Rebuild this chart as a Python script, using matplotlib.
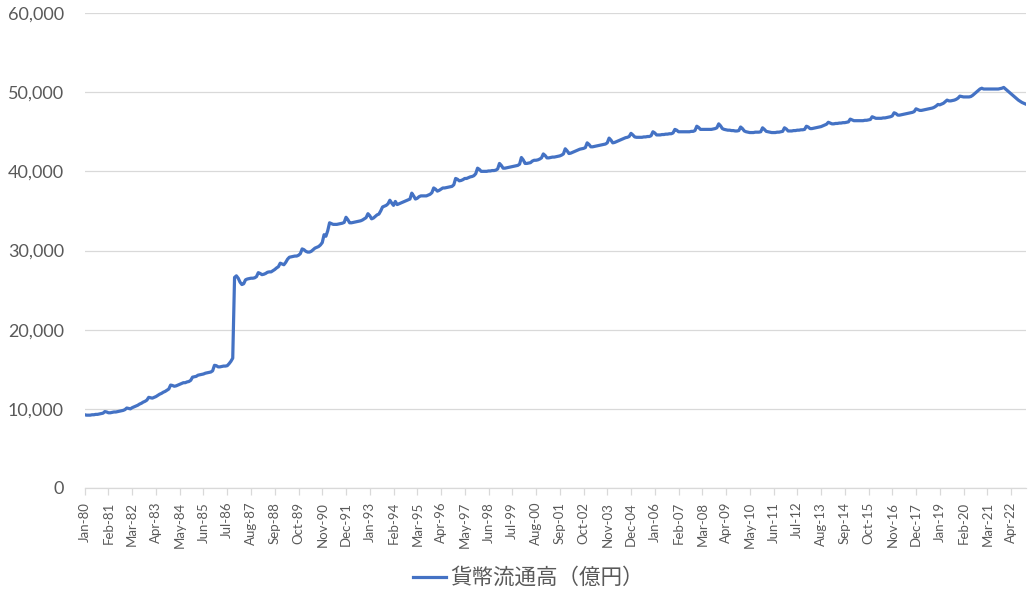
import matplotlib
matplotlib.use('Agg')
import matplotlib.pyplot as plt
import numpy as np
import pandas as pd
from matplotlib.ticker import FuncFormatter

plt.rcParams['font.family'] = ['Lato', 'Noto Sans CJK JP', 'DejaVu Sans']

series_name = '貨幣流通高（億円）'
start_month = '1980-01-01'

# Monthly values (億円), Jan..Dec per row, 1980..2022
values = [
    9250, 9200, 9200, 9200, 9250, 9250, 9300, 9300, 9350, 9400, 9450, 9650,
    9600, 9500, 9500, 9550, 9600, 9600, 9650, 9700, 9750, 9800, 9900, 10100,
    10050, 10000, 10150, 10250, 10350, 10450, 10600, 10700, 10850, 10950, 11100, 11450,
    11400, 11350, 11450, 11550, 11700, 11850, 11950, 12100, 12200, 12350, 12500, 13000,
    12950, 12850, 12900, 13000, 13100, 13200, 13300, 13300, 13400, 13450, 13600, 14000,
    14050, 14100, 14250, 14300, 14350, 14400, 14500, 14550, 14600, 14650, 14800, 15500,
    15450, 15300, 15300, 15350, 15400, 15400, 15450, 15700, 16000, 16400, 26600, 26800,
    26500, 26000, 25700, 25800, 26300, 26400, 26450, 26500, 26500, 26550, 26700, 27200,
    27100, 26950, 27000, 27100, 27250, 27300, 27300, 27450, 27600, 27800, 27950, 28400,
    28300, 28200, 28500, 28900, 29150, 29200, 29250, 29300, 29300, 29400, 29600, 30200,
    30100, 29900, 29800, 29800, 29900, 30100, 30300, 30400, 30500, 30700, 31000, 32000,
    31800, 32500, 33500, 33400, 33300, 33300, 33300, 33350, 33400, 33450, 33550, 34200,
    33900, 33500, 33500, 33550, 33600, 33650, 33700, 33750, 33850, 34000, 34150, 34650,
    34400, 34000, 34100, 34300, 34500, 34600, 35000, 35500, 35600, 35700, 35900, 36350,
    36000, 35700, 36200, 35800, 35900, 36000, 36100, 36200, 36300, 36400, 36500, 37250,
    36900, 36500, 36600, 36800, 36900, 36900, 36900, 36900, 37000, 37100, 37300, 37900,
    37750, 37500, 37600, 37750, 37900, 37900, 37950, 38000, 38050, 38100, 38300, 39100,
    39000, 38800, 38850, 38950, 39100, 39100, 39200, 39300, 39350, 39450, 39700, 40400,
    40250, 40000, 40000, 40000, 40000, 40050, 40050, 40100, 40100, 40150, 40300, 41000,
    40750, 40400, 40400, 40450, 40500, 40550, 40600, 40650, 40700, 40750, 40900, 41750,
    41450, 41000, 41000, 41050, 41100, 41300, 41400, 41400, 41450, 41550, 41700, 42200,
    42000, 41700, 41700, 41750, 41800, 41800, 41850, 41900, 41950, 42050, 42200, 42850,
    42600, 42250, 42300, 42400, 42500, 42600, 42700, 42800, 42850, 42900, 43000, 43600,
    43400, 43100, 43100, 43150, 43200, 43250, 43300, 43350, 43400, 43450, 43600, 44200,
    43950, 43600, 43650, 43750, 43850, 43950, 44050, 44150, 44250, 44300, 44400, 44800,
    44600, 44350, 44300, 44300, 44300, 44300, 44350, 44350, 44400, 44400, 44500, 45000,
    44850, 44600, 44600, 44600, 44650, 44650, 44700, 44700, 44750, 44750, 44850, 45300,
    45200, 45000, 45000, 45000, 45000, 45000, 45000, 45000, 45050, 45050, 45150, 45700,
    45550, 45300, 45300, 45300, 45300, 45300, 45300, 45300, 45350, 45400, 45500, 46000,
    45750, 45400, 45300, 45250, 45200, 45200, 45150, 45150, 45100, 45100, 45150, 45600,
    45400, 45100, 45000, 44950, 44900, 44900, 44900, 44950, 44950, 44950, 45000, 45500,
    45300, 45050, 45000, 44950, 44900, 44900, 44900, 44950, 44950, 45000, 45050, 45500,
    45350, 45100, 45100, 45100, 45150, 45150, 45200, 45200, 45250, 45250, 45300, 45700,
    45600, 45400, 45400, 45450, 45500, 45550, 45600, 45650, 45750, 45850, 45950, 46200,
    46100, 46000, 46000, 46050, 46050, 46100, 46100, 46150, 46150, 46200, 46250, 46600,
    46500, 46400, 46400, 46400, 46400, 46400, 46400, 46450, 46450, 46500, 46550, 46900,
    46800, 46700, 46700, 46700, 46700, 46750, 46750, 46800, 46850, 46900, 47000, 47400,
    47300, 47100, 47100, 47150, 47200, 47250, 47300, 47350, 47400, 47450, 47550, 47900,
    47800, 47700, 47700, 47750, 47800, 47850, 47900, 47950, 48000, 48100, 48250, 48450,
    48400, 48500, 48600, 48800, 49000, 48900, 48900, 48950, 49000, 49100, 49250, 49500,
    49450, 49400, 49400, 49400, 49400, 49450, 49600, 49800, 50000, 50200, 50400, 50500,
    50400, 50400, 50400, 50400, 50400, 50400, 50400, 50400, 50400, 50450, 50500, 50600,
    50400, 50200, 50000, 49800, 49600, 49400, 49200, 49000, 48850, 48700, 48600, 48500,
]

y_ticks = [0, 10000, 20000, 30000, 40000, 50000, 60000]
tick_step = 13

months = pd.date_range(start_month, periods=len(values), freq='MS')
month_labels = [d.strftime('%b-%y') for d in months]
x = np.arange(len(values))

fig = plt.figure(figsize=(10.36, 5.92), dpi=100)
ax = fig.add_axes([0.0818, 0.1757, 0.9082, 0.8023])

ax.plot(x, values, color='#4472C4', lw=2.3, solid_joinstyle='round', label=series_name)

ax.set_xlim(0, len(values) - 1)
ax.set_ylim(0, 60000)
ax.set_yticks(y_ticks)
ax.yaxis.set_major_formatter(FuncFormatter(lambda v, p: f'{int(v):,}'))
ax.grid(axis='y', color='#D9D9D9', lw=0.9)
ax.set_axisbelow(True)

tick_pos = x[::tick_step]
ax.set_xticks(tick_pos)
ax.set_xticklabels([month_labels[i] for i in tick_pos], rotation=90)

for s in ['top', 'right', 'left']:
    ax.spines[s].set_visible(False)
ax.spines['bottom'].set_color('#D9D9D9')
ax.spines['bottom'].set_linewidth(0.9)

ax.tick_params(axis='x', colors='#D9D9D9', length=5, width=0.9, labelcolor='#595959', labelsize=9.5, pad=5)
ax.tick_params(axis='y', length=0, labelcolor='#595959', labelsize=13, pad=15)

leg = fig.legend(loc='lower center', bbox_to_anchor=(0.51, -0.028), frameon=False,
                 handlelength=1.5, handletextpad=0.2,
                 prop={'family': ['Noto Sans CJK JP', 'DejaVu Sans'], 'size': 15.5})
for t in leg.get_texts():
    t.set_color('#595959')

fig.savefig('out.png', dpi=100)
